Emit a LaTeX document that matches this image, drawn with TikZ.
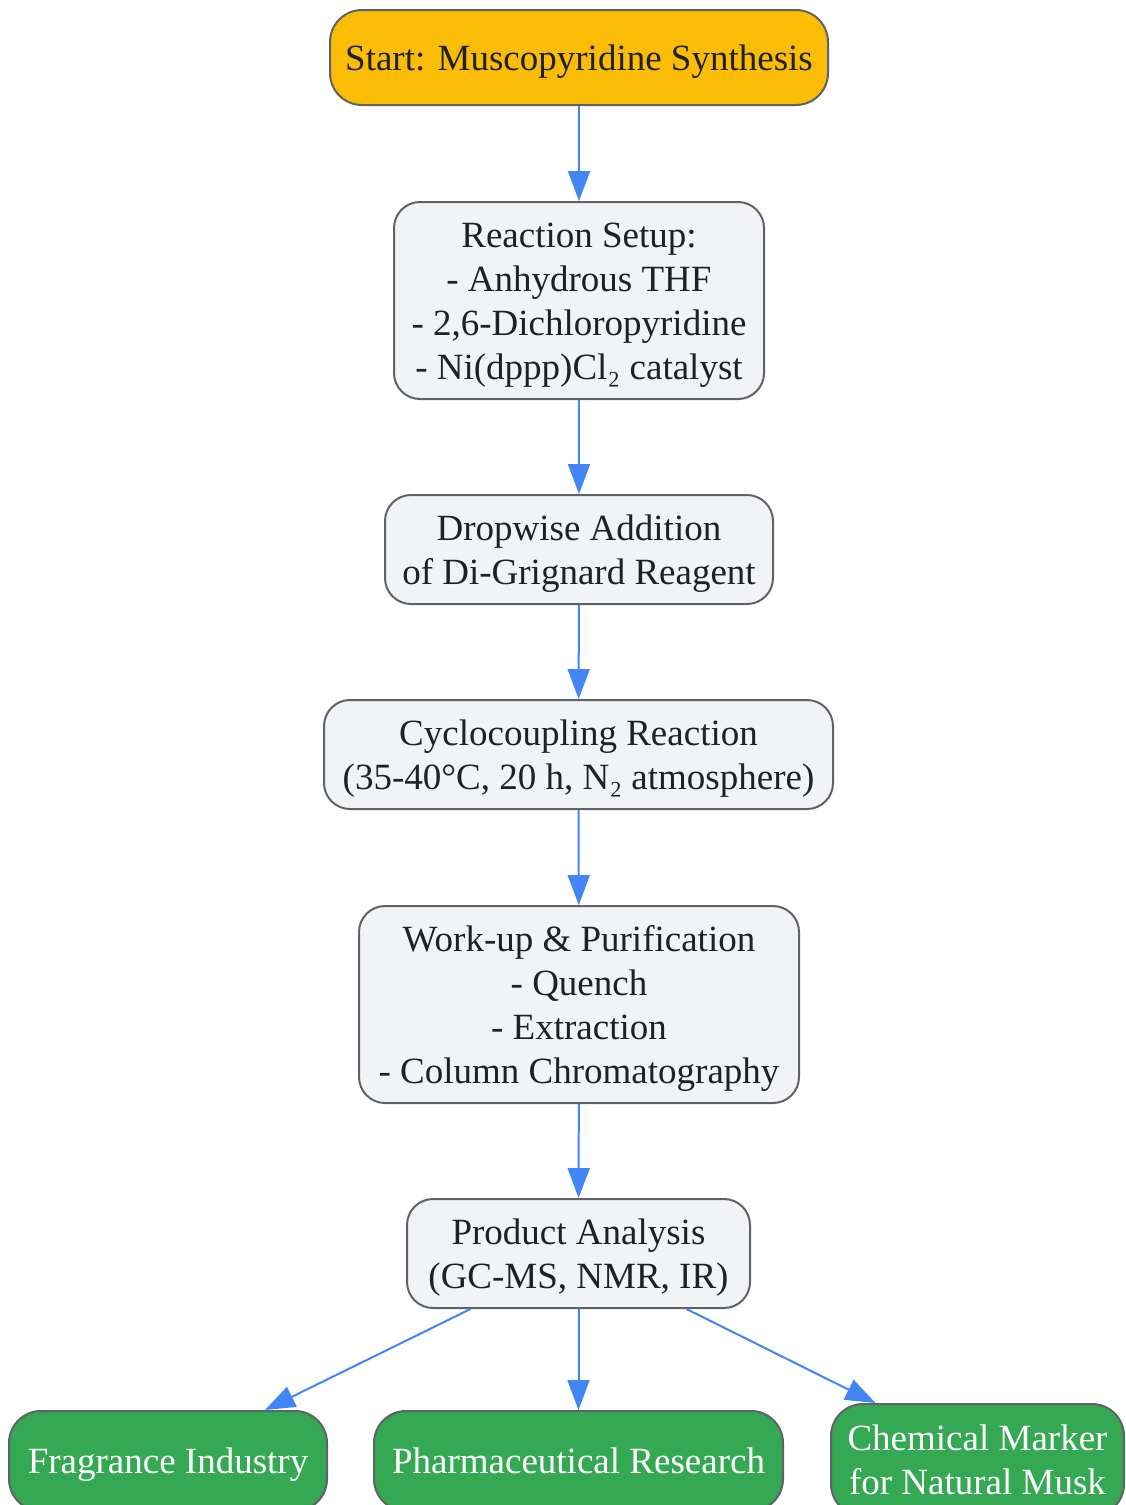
\documentclass[tikz,border=0pt]{standalone}
\usepackage{fontspec}
\setmainfont{Liberation Serif}
\usetikzlibrary{arrows.meta,calc}
\definecolor{startfill}{HTML}{FBBC05}
\definecolor{boxfill}{HTML}{F1F3F4}
\definecolor{boxdraw}{HTML}{5F6368}
\definecolor{greenfill}{HTML}{34A853}
\definecolor{arrowblue}{HTML}{4285F4}
\definecolor{txt}{HTML}{202124}
\newcommand{\lnstrut}{\rule[-9.5pt]{0pt}{44pt}}
\tikzset{
  base/.style={draw=boxdraw, line width=2pt, align=center, inner sep=0pt,
    font=\fontsize{37}{44}\selectfont, text=txt},
  startbox/.style={base, fill=startfill, rounded corners=32pt},
  procbox/.style={base, fill=boxfill, rounded corners=26pt},
  appbox/.style={base, fill=greenfill, text=white, rounded corners=32pt},
  flow/.style={draw=arrowblue, line width=2pt, -{Triangle[length=30pt,width=22pt]}},
}
\begin{document}
\begin{tikzpicture}[x=1pt,y=-1pt]
\useasboundingbox (0,0) rectangle (1126,1505);
\node[startbox, minimum width=498pt, minimum height=95pt] (start) at (579,57.5) {\lnstrut Start: Muscopyridine Synthesis\lnstrut};
\node[procbox, minimum width=370pt, minimum height=197pt] (setup) at (579,300.5) {\lnstrut Reaction Setup:\\- Anhydrous THF\\- 2,6-Dichloropyridine\\- Ni(dppp)Cl₂ catalyst\lnstrut};
\node[procbox, minimum width=388pt, minimum height=109pt] (drop) at (579,549.5) {\lnstrut Dropwise Addition\\of Di-Grignard Reagent\lnstrut};
\node[procbox, minimum width=509pt, minimum height=109pt] (cyclo) at (578.5,754.5) {\lnstrut Cyclocoupling Reaction\\(35-40°C, 20 h, N₂ atmosphere)\lnstrut};
\node[procbox, minimum width=440pt, minimum height=197pt] (work) at (579,1004.5) {\lnstrut Work-up \& Purification\\- Quench\\- Extraction\\- Column Chromatography\lnstrut};
\node[procbox, minimum width=343pt, minimum height=109pt] (prod) at (578.5,1253.5) {\lnstrut Product Analysis\\(GC-MS, NMR, IR)\lnstrut};
\node[appbox, minimum width=318pt, minimum height=100pt] (frag) at (168,1461) {\lnstrut Fragrance Industry\lnstrut};
\node[appbox, minimum width=409pt, minimum height=100pt] (pharm) at (578.5,1461) {\lnstrut Pharmaceutical Research\lnstrut};
\node[appbox, minimum width=293pt, minimum height=112pt] (chem) at (977.5,1460) {\lnstrut Chemical Marker\\for Natural Musk\lnstrut};
\draw[flow] (start) -- (setup);
\draw[flow] (setup) -- (drop);
\draw[flow] (drop) -- (cyclo);
\draw[flow] (cyclo) -- (work);
\draw[flow] (work) -- (prod);
\draw[flow] ($(prod.south)+(-108,0)$) -- ($(frag.north)+(97,0)$);
\draw[flow] (prod) -- (pharm);
\draw[flow] ($(prod.south)+(108,0)$) -- ($(chem.north)+(-102,0)$);
\end{tikzpicture}
\end{document}
